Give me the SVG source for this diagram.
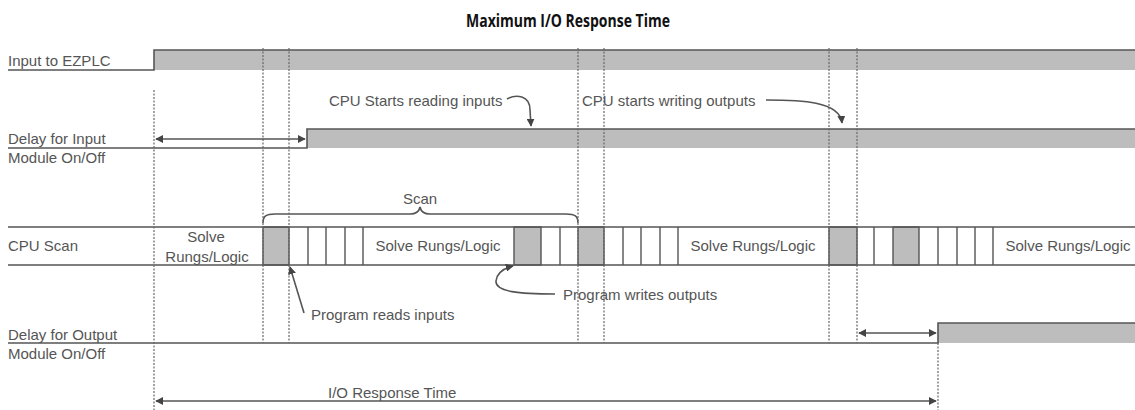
<svg xmlns="http://www.w3.org/2000/svg" width="1135" height="410" viewBox="0 0 1135 410">
<style>
.t{font-family:"Liberation Sans",Arial,sans-serif;font-size:15px;fill:#555}
.c{text-anchor:middle}
.title{font-family:"Open Sans","Liberation Sans",sans-serif;font-size:17px;font-weight:bold;fill:#111}
.sig{fill:none;stroke:#555;stroke-width:1.6}
.hi{fill:#bdbdbd;stroke:none}
.dot{stroke:#666;stroke-width:1.2;stroke-dasharray:2 1.5;fill:none}
.cell{fill:none;stroke:#555;stroke-width:1.4}
.gcell{fill:#bdbdbd;stroke:#555;stroke-width:1.4}
.arr{fill:none;stroke:#555;stroke-width:1.6}
</style>
<defs>
<marker id="ah" viewBox="0 0 10 10" refX="9" refY="5" markerWidth="8" markerHeight="8" markerUnits="userSpaceOnUse" orient="auto-start-reverse">
<path d="M0,0 L10,5 L0,10 Z" fill="#444"/>
</marker>
</defs>
<rect width="1135" height="410" fill="#fff"/>
<text class="title" x="466" y="27" textLength="204" lengthAdjust="spacingAndGlyphs">Maximum I/O Response Time</text>

<g id="input-ezplc">
<rect class="hi" x="154" y="50" width="981" height="20"/>
<path class="sig" d="M8,70 H154 V50 H1135"/>
<text class="t" x="8" y="66">Input to EZPLC</text>
</g>

<g id="input-module">
<rect class="hi" x="307" y="129" width="828" height="19"/>
<path class="sig" d="M8,148 H307 V129 H1135"/>
<text class="t" x="8" y="144">Delay for Input</text>
<text class="t" x="8" y="163">Module On/Off</text>
</g>

<g id="cpu-scan">
<rect class="gcell" x="263" y="227" width="26" height="38"/>
<rect class="gcell" x="514" y="227" width="27" height="38"/>
<rect class="gcell" x="578" y="227" width="26" height="38"/>
<rect class="gcell" x="829" y="227" width="28" height="38"/>
<rect class="gcell" x="893" y="227" width="26" height="38"/>
<path class="cell" d="M308,227 V265 M326,227 V265 M345,227 V265 M363,227 V265 M560,227 V265 M623,227 V265 M641,227 V265 M660,227 V265 M678,227 V265 M874,227 V265 M938,227 V265 M957,227 V265 M975,227 V265 M993,227 V265"/>
<path class="sig" d="M8,227 H1135 M8,265 H1135"/>
<text class="t" x="8" y="251">CPU Scan</text>
<text class="t c" x="206" y="242">Solve</text>
<text class="t c" x="207" y="262">Rungs/Logic</text>
<text class="t c" x="438" y="251">Solve Rungs/Logic</text>
<text class="t c" x="753" y="251">Solve Rungs/Logic</text>
<text class="t c" x="1068" y="251">Solve Rungs/Logic</text>
</g>

<g id="scan-brace">
<path class="arr" d="M263,223 C263,216 266,214 275,214 H410 C416,214 419,212 420,207 C421,212 424,214 430,214 H566 C575,214 578,216 578,223"/>
<text class="t c" x="420" y="204">Scan</text>
</g>

<g id="output-module">
<rect class="hi" x="938" y="323" width="197" height="20"/>
<path class="sig" d="M8,343 H938 V323 H1135"/>
<text class="t" x="8" y="340">Delay for Output</text>
<text class="t" x="8" y="359">Module On/Off</text>
</g>

<g id="guides">
<path class="dot" d="M154,90 V410 M263,48 V343 M289,48 V343 M578,48 V343 M604,48 V343 M829,48 V343 M857,48 V343 M938,343 V410"/>
</g>

<g id="labels">
<text class="t" x="329" y="106">CPU Starts reading inputs</text>
<text class="t" x="582" y="106">CPU starts writing outputs</text>
<text class="t" x="311" y="320">Program reads inputs</text>
<text class="t" x="563" y="300">Program writes outputs</text>
<text class="t" x="328" y="398">I/O Response Time</text>
</g>

<g id="connectors">
<path class="arr" d="M156,139 H305" marker-start="url(#ah)" marker-end="url(#ah)"/>
<path class="arr" d="M859,333 H936" marker-start="url(#ah)" marker-end="url(#ah)"/>
<path class="arr" d="M156,401 H936" marker-start="url(#ah)" marker-end="url(#ah)"/>
<path class="arr" d="M507,99 C516,94 530,95 530,110 L531,126" marker-end="url(#ah)"/>
<path class="arr" d="M766,100 C800,100 840,101 842,123" marker-end="url(#ah)"/>
<path class="arr" d="M304,313 L290,267" marker-end="url(#ah)"/>
<path class="arr" d="M555,294 C520,294 495,292 496,281 C497,272 505,268 513,266" marker-end="url(#ah)"/>
</g>
</svg>
